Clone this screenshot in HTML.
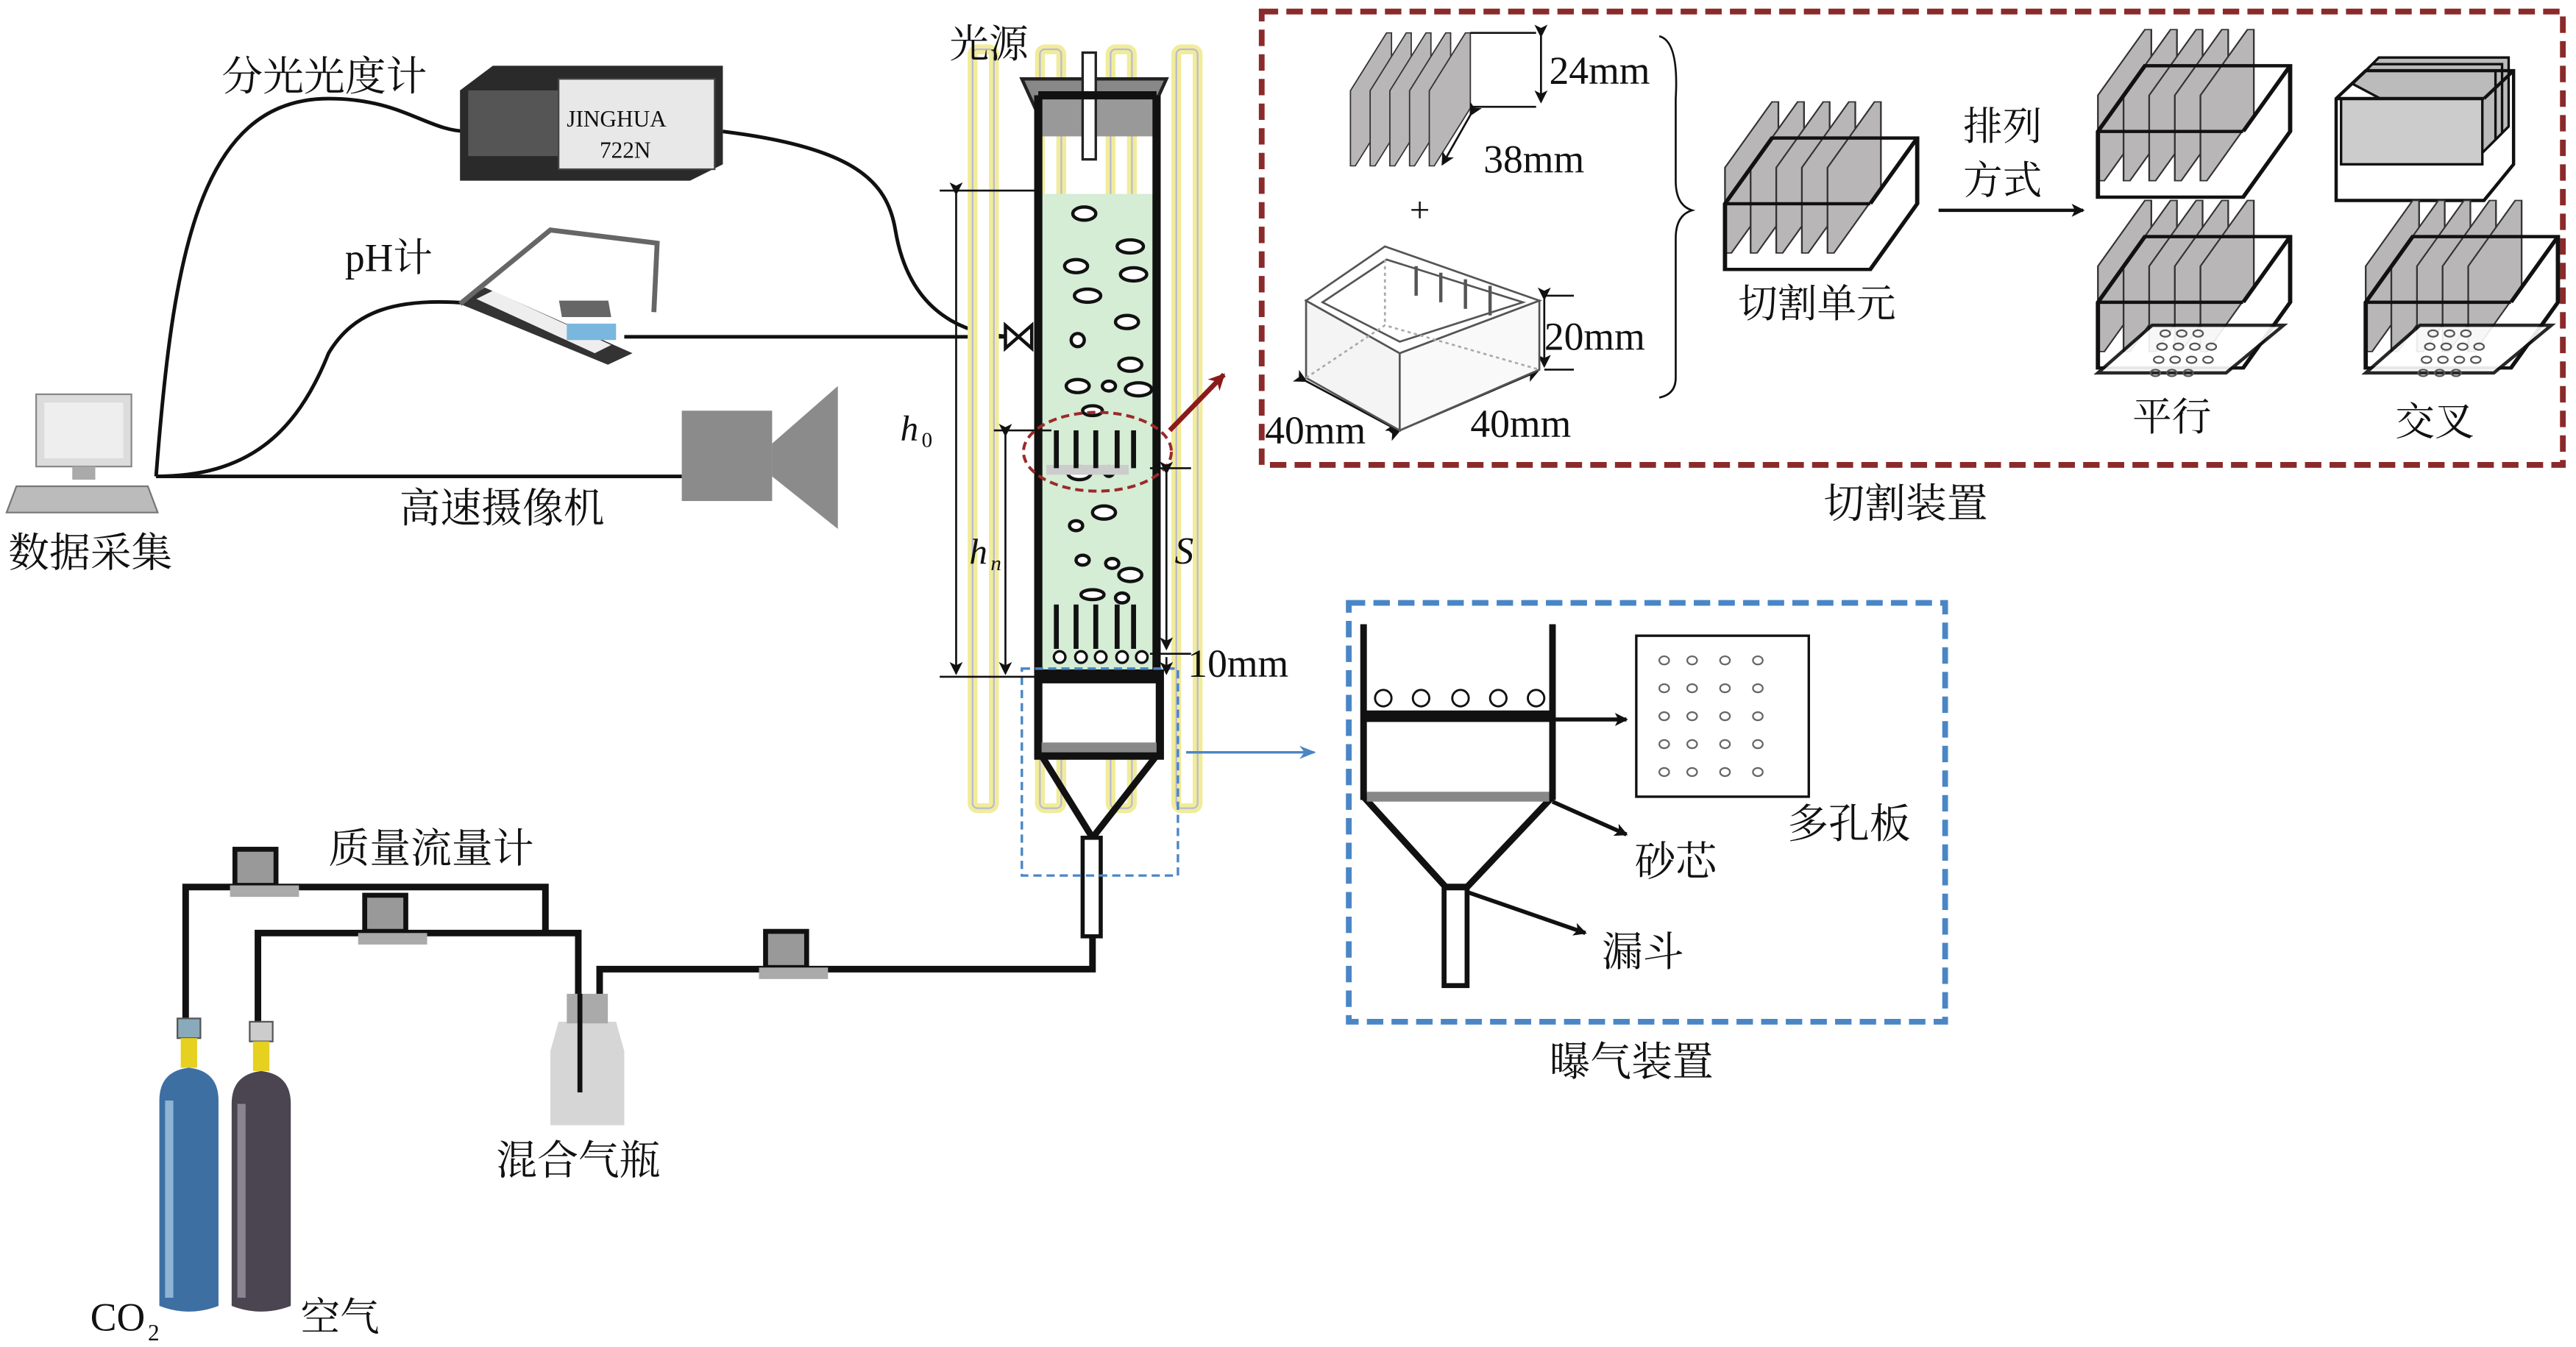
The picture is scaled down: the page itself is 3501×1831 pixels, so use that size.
<!DOCTYPE html>
<html><head><meta charset="utf-8"><style>
html,body{margin:0;padding:0;background:#fff}
svg{display:block}
text{font-family:"Liberation Serif","Noto Serif CJK SC","Noto Sans CJK SC",serif;fill:#111}
</style></head><body>
<svg width="3501" height="1831" viewBox="0 0 1568 820" xmlns="http://www.w3.org/2000/svg">
<defs>
<g id="plates">
<path d="M0,40 L22,0 L25,0 L25,52 L3,92 L0,92Z" fill="#b8b6b6" stroke="#333" stroke-width="0.8"/>
<path d="M12,40 L34,0 L37,0 L37,52 L15,92 L12,92Z" fill="#b8b6b6" stroke="#333" stroke-width="0.8"/>
<path d="M24,40 L46,0 L49,0 L49,52 L27,92 L24,92Z" fill="#b8b6b6" stroke="#333" stroke-width="0.8"/>
<path d="M36,40 L58,0 L61,0 L61,52 L39,92 L36,92Z" fill="#b8b6b6" stroke="#333" stroke-width="0.8"/>
<path d="M48,40 L70,0 L73,0 L73,52 L51,92 L48,92Z" fill="#b8b6b6" stroke="#333" stroke-width="0.8"/>
</g>
<g id="unit">
<use href="#plates"/>
<path d="M0,62 L22,22 L90,22 L90,62 L68,102 L0,102Z" fill="none" stroke="#111" stroke-width="2"/>
<line x1="0" y1="62" x2="68" y2="62" stroke="#111" stroke-width="2"/>
<line x1="68" y1="62" x2="90" y2="22" stroke="#111" stroke-width="2"/>
</g>
<g id="holes" fill="none" stroke="#555" stroke-width="1">
<ellipse cx="0" cy="0" rx="3" ry="2"/><ellipse cx="10" cy="0" rx="3" ry="2"/><ellipse cx="20" cy="0" rx="3" ry="2"/>
<ellipse cx="-2" cy="8" rx="3" ry="2"/><ellipse cx="8" cy="8" rx="3" ry="2"/><ellipse cx="18" cy="8" rx="3" ry="2"/><ellipse cx="28" cy="8" rx="3" ry="2"/>
<ellipse cx="-4" cy="16" rx="3" ry="2"/><ellipse cx="6" cy="16" rx="3" ry="2"/><ellipse cx="16" cy="16" rx="3" ry="2"/><ellipse cx="26" cy="16" rx="3" ry="2"/>
<ellipse cx="-6" cy="24" rx="3" ry="2"/><ellipse cx="4" cy="24" rx="3" ry="2"/><ellipse cx="14" cy="24" rx="3" ry="2"/>
</g>
<marker id="ah" markerWidth="8" markerHeight="8" refX="7" refY="4" orient="auto" markerUnits="userSpaceOnUse"><path d="M0,0 L8,4 L0,8 L2,4Z" fill="#111"/></marker>
<marker id="ahr" markerWidth="10" markerHeight="10" refX="9" refY="5" orient="auto" markerUnits="userSpaceOnUse"><path d="M0,0 L10,5 L0,10 L3,5Z" fill="#8b1a1a"/></marker>
<marker id="ahb" markerWidth="10" markerHeight="8" refX="9" refY="4" orient="auto" markerUnits="userSpaceOnUse"><path d="M0,0 L10,4 L0,8 L3,4Z" fill="#4a86c5"/></marker>
</defs>

<rect x="22" y="240" width="58" height="44" fill="#dcdcdc" stroke="#888"/>
<rect x="27" y="245" width="48" height="34" fill="#eee"/>
<rect x="44" y="284" width="14" height="8" fill="#aaa"/>
<path d="M10,296 L90,296 L96,312 L4,312Z" fill="#bbb" stroke="#777"/>
<text x="5" y="345" font-size="25">数据采集</text>

<g fill="none" stroke="#111" stroke-width="2.2">
<path d="M95,290 C105,160 120,60 200,60 C245,60 260,80 285,80"/>
<path d="M440,80 C520,90 540,110 545,140 C555,200 600,205 620,205"/>
<path d="M95,290 C150,290 180,265 200,215 C215,190 240,180 290,185"/>
<path d="M380,205 L612,205"/>
<path d="M95,290 L415,290"/>
</g>

<path d="M280,55 L300,40 L440,40 L440,100 L420,110 L280,110Z" fill="#2a2a2a"/>
<rect x="285" y="55" width="60" height="40" fill="#555"/>
<rect x="340" y="48" width="95" height="55" fill="#e8e8e8" stroke="#444"/>
<text x="345" y="77" font-size="14">JINGHUA</text>
<text x="365" y="96" font-size="14">722N</text>
<text x="135" y="55" font-size="25">分光光度计</text>

<path d="M280,185 L295,175 L385,215 L370,222Z" fill="#333"/>
<path d="M290,182 L300,177 L372,210 L362,215Z" fill="#eee"/>
<rect x="308" y="183" width="30" height="10" fill="#666" transform="skewX(10)"/>
<rect x="345" y="197" width="30" height="10" fill="#7ab7de"/>
<path d="M280,185 L335,140 L400,148 L398,190" fill="none" stroke="#666" stroke-width="3"/>
<text x="210" y="165" font-size="24">pH计</text>

<rect x="415" y="250" width="55" height="55" fill="#8b8b8b"/>
<path d="M470,270 L510,235 L510,322 L470,290Z" fill="#8b8b8b"/>
<text x="243" y="318" font-size="25">高速摄像机</text>

<g fill="#fff" stroke="#f1ec9a" stroke-width="6">
<rect x="592" y="30" width="13" height="462" rx="3"/>
<rect x="633" y="30" width="13" height="462" rx="3"/>
<rect x="676" y="30" width="13" height="462" rx="3"/>
<rect x="716" y="30" width="13" height="462" rx="3"/>
</g>
<g fill="none" stroke="#b9b9d6" stroke-width="1">
<rect x="592" y="30" width="13" height="462" rx="3"/>
<rect x="633" y="30" width="13" height="462" rx="3"/>
<rect x="676" y="30" width="13" height="462" rx="3"/>
<rect x="716" y="30" width="13" height="462" rx="3"/>
</g>
<text x="578" y="35" font-size="24">光源</text>

<rect x="632" y="118" width="72" height="290" fill="#d5ecd5"/>
<path d="M622,48 L710,48 L700,70 L632,70Z" fill="#888" stroke="#222" stroke-width="2"/>
<rect x="632" y="58" width="72" height="25" fill="#999"/>
<rect x="659" y="32" width="8" height="65" fill="#fff" stroke="#222" stroke-width="1.5"/>
<path d="M632,58 L632,410 M704,58 L704,410 M632,58 L704,58" fill="none" stroke="#111" stroke-width="5"/>
<g fill="#fff" stroke="#111" stroke-width="2">
<ellipse cx="660" cy="130" rx="7" ry="4"/><ellipse cx="688" cy="150" rx="8" ry="4"/><ellipse cx="655" cy="162" rx="7" ry="4"/>
<ellipse cx="690" cy="167" rx="8" ry="4"/><ellipse cx="662" cy="180" rx="8" ry="4"/><ellipse cx="686" cy="196" rx="7" ry="4"/>
<ellipse cx="656" cy="207" rx="4" ry="4"/><ellipse cx="688" cy="222" rx="7" ry="4"/><ellipse cx="656" cy="235" rx="7" ry="4"/>
<ellipse cx="675" cy="235" rx="4" ry="3"/><ellipse cx="693" cy="237" rx="8" ry="4"/><ellipse cx="665" cy="250" rx="6" ry="3"/>
<ellipse cx="657" cy="288" rx="7" ry="4"/><ellipse cx="675" cy="287" rx="3" ry="3"/><ellipse cx="672" cy="312" rx="7" ry="4"/>
<ellipse cx="655" cy="320" rx="4" ry="3"/><ellipse cx="659" cy="341" rx="4" ry="3"/><ellipse cx="677" cy="343" rx="4" ry="3"/><ellipse cx="688" cy="350" rx="7" ry="4"/>
<ellipse cx="665" cy="362" rx="7" ry="3"/><ellipse cx="683" cy="364" rx="4" ry="3"/>
</g>
<rect x="637" y="283" width="50" height="6" fill="#ccc"/>
<g stroke="#111" stroke-width="3">
<line x1="643" y1="262" x2="643" y2="285"/><line x1="655" y1="262" x2="655" y2="285"/><line x1="667" y1="262" x2="667" y2="285"/><line x1="680" y1="262" x2="680" y2="285"/><line x1="690" y1="262" x2="690" y2="285"/>
<line x1="643" y1="368" x2="643" y2="395"/><line x1="655" y1="368" x2="655" y2="395"/><line x1="667" y1="368" x2="667" y2="395"/><line x1="680" y1="368" x2="680" y2="395"/><line x1="690" y1="368" x2="690" y2="395"/>
</g>
<g fill="#fff" stroke="#111" stroke-width="1.5">
<circle cx="645" cy="400" r="3.5"/><circle cx="658" cy="400" r="3.5"/><circle cx="670" cy="400" r="3.5"/><circle cx="683" cy="400" r="3.5"/><circle cx="695" cy="400" r="3.5"/>
</g>
<ellipse cx="668" cy="275" rx="45" ry="24" fill="none" stroke="#9b2a2a" stroke-width="1.8" stroke-dasharray="5,3"/>
<line x1="712" y1="262" x2="745" y2="228" stroke="#8b1a1a" stroke-width="3" marker-end="url(#ahr)"/>
<rect x="632" y="410" width="74" height="50" fill="#fff" stroke="#111" stroke-width="5"/>
<rect x="630" y="408" width="78" height="8" fill="#111"/>
<rect x="634" y="452" width="70" height="6" fill="#888"/>
<path d="M634,460 L665,510 L704,460" fill="none" stroke="#111" stroke-width="4"/>
<rect x="659" y="510" width="11" height="60" fill="#fff" stroke="#111" stroke-width="2.5"/>
<rect x="622" y="407" width="95" height="126" fill="none" stroke="#4a86c5" stroke-width="1.5" stroke-dasharray="5,3"/>
<line x1="722" y1="458" x2="800" y2="458" stroke="#4a86c5" stroke-width="1.5" marker-end="url(#ahb)"/>
<path d="M612,198 L628,212 L628,198 L612,212Z" fill="#fff" stroke="#111" stroke-width="2"/>

<g stroke="#111" stroke-width="1.2" fill="none">
<line x1="572" y1="116" x2="632" y2="116"/>
<line x1="572" y1="412" x2="632" y2="412"/>
<line x1="582" y1="118" x2="582" y2="410" marker-end="url(#ah)" marker-start="url(#ah)"/>
<line x1="605" y1="262" x2="640" y2="262"/>
<line x1="612" y1="265" x2="612" y2="410" marker-end="url(#ah)" marker-start="url(#ah)"/>
<line x1="700" y1="285" x2="725" y2="285"/>
<line x1="710" y1="288" x2="710" y2="395" marker-end="url(#ah)" marker-start="url(#ah)"/>
<line x1="700" y1="398" x2="725" y2="398"/>
<line x1="710" y1="400" x2="710" y2="410" marker-end="url(#ah)"/>
</g>
<text x="548" y="268" font-size="22" font-style="italic">h</text><text x="561" y="272" font-size="13">0</text>
<text x="590" y="343" font-size="22" font-style="italic">h</text><text x="603" y="347" font-size="13" font-style="italic">n</text>
<text x="715" y="343" font-size="23" font-style="italic">S</text>
<text x="723" y="412" font-size="24">10mm</text>

<rect x="768" y="7" width="792" height="276" fill="none" stroke="#8b2a2a" stroke-width="3.5" stroke-dasharray="10,5"/>
<use href="#plates" transform="translate(822,20) scale(1.0,0.88)"/>
<g stroke="#111" stroke-width="1.2" fill="none">
<line x1="895" y1="20" x2="935" y2="20"/><line x1="895" y1="65" x2="935" y2="65"/>
<line x1="938" y1="22" x2="938" y2="62" marker-end="url(#ah)" marker-start="url(#ah)"/>
<line x1="895" y1="70" x2="878" y2="100" marker-end="url(#ah)" marker-start="url(#ah)"/>
<line x1="940" y1="180" x2="958" y2="180"/><line x1="940" y1="225" x2="958" y2="225"/>
<line x1="940" y1="182" x2="940" y2="223" marker-end="url(#ah)" marker-start="url(#ah)"/>
<line x1="795" y1="232" x2="851" y2="262" marker-end="url(#ah)" marker-start="url(#ah)"/>
<line x1="852" y1="262" x2="936" y2="226" marker-end="url(#ah)" marker-start="url(#ah)"/>
<path d="M1010,22 Q1022,25 1020,60 L1020,110 Q1020,125 1030,128 Q1020,131 1020,145 L1020,230 Q1020,240 1010,242"/>
</g>
<text x="943" y="51" font-size="24">24mm</text>
<text x="903" y="105" font-size="24">38mm</text>
<text x="858" y="135" font-size="22">+</text>
<g stroke="#555" stroke-width="1.2">
<path d="M795,183 L852,215 L852,262 L795,230Z" fill="#f4f4f4"/>
<path d="M852,215 L937,183 L937,225 L852,262Z" fill="#f9f9f9"/>
<path d="M795,183 L843,150 L937,183 L852,215Z" fill="#fff"/>
<path d="M805,184 L844,158 L927,184 L852,208Z" fill="#fff"/>
<g stroke-dasharray="2,2" stroke="#aaa" fill="none"><path d="M795,230 L843,198 L937,225 M843,158 L843,198"/></g>
<line x1="862" y1="162" x2="862" y2="180" stroke-width="2"/><line x1="877" y1="166" x2="877" y2="184" stroke-width="2"/><line x1="892" y1="170" x2="892" y2="188" stroke-width="2"/><line x1="907" y1="174" x2="907" y2="192" stroke-width="2"/>
</g>
<text x="940" y="213" font-size="24">20mm</text>
<text x="770" y="270" font-size="24">40mm</text>
<text x="895" y="266" font-size="24">40mm</text>
<use href="#unit" transform="translate(1050,62) scale(1.3,1.0)"/>
<text x="1058" y="193" font-size="24">切割单元</text>
<text x="1195" y="85" font-size="24">排列</text>
<text x="1195" y="118" font-size="24">方式</text>
<line x1="1180" y1="128" x2="1268" y2="128" stroke="#111" stroke-width="2" marker-end="url(#ah)"/>
<use href="#unit" transform="translate(1277,18) scale(1.3,1.0)"/>
<g stroke="#111" stroke-width="1.5">
<path d="M1440,43 L1448,35 L1527,35 L1527,77 L1519,85Z" fill="#bbb"/>
<path d="M1436,47 L1444,39 L1523,39 L1523,81 L1515,89Z" fill="#bbb"/>
<path d="M1432,51 L1440,43 L1519,43 L1519,85 L1511,93Z" fill="#bbb"/>
<rect x="1425" y="60" width="86" height="40" fill="#ccc"/>
<path d="M1422,60 L1440,43 L1530,43 L1530,100 L1512,122 L1422,122Z" fill="none" stroke-width="2"/>
<line x1="1422" y1="60" x2="1512" y2="60" stroke-width="2"/>
<line x1="1512" y1="60" x2="1530" y2="43" stroke-width="2"/>
</g>
<use href="#unit" transform="translate(1277,122) scale(1.3,1.0)"/>
<path d="M1277,227 L1355,227 L1390,198 L1310,198Z" fill="#fff" stroke="#111" stroke-width="2" opacity="0.9"/>
<use href="#holes" x="1318" y="203"/>
<use href="#unit" transform="translate(1440,122) scale(1.3,1.0)"/>
<path d="M1440,227 L1518,227 L1553,198 L1473,198Z" fill="#fff" stroke="#111" stroke-width="2" opacity="0.9"/>
<use href="#holes" x="1481" y="203"/>
<text x="1298" y="262" font-size="24">平行</text>
<text x="1458" y="265" font-size="24">交叉</text>
<text x="1110" y="315" font-size="25">切割装置</text>

<rect x="821" y="367" width="363" height="255" fill="none" stroke="#4a86c5" stroke-width="3.5" stroke-dasharray="10,5"/>
<g fill="none" stroke="#111" stroke-width="4">
<path d="M830,380 L830,485 L945,485 L945,380"/>
<line x1="830" y1="436" x2="945" y2="436" stroke-width="7"/>
<path d="M830,485 L880,540 L893,540 L945,485"/>
<rect x="879" y="540" width="14" height="60" stroke-width="3"/>
</g>
<rect x="832" y="482" width="111" height="6" fill="#888"/>
<g fill="#fff" stroke="#111" stroke-width="1.3">
<circle cx="842" cy="425" r="5"/><circle cx="865" cy="425" r="5"/><circle cx="889" cy="425" r="5"/><circle cx="912" cy="425" r="5"/><circle cx="935" cy="425" r="5"/>
</g>
<g stroke="#111" stroke-width="2.5" fill="none">
<line x1="945" y1="438" x2="990" y2="438" marker-end="url(#ah)"/>
<line x1="945" y1="488" x2="990" y2="508" marker-end="url(#ah)"/>
<line x1="893" y1="543" x2="965" y2="568" marker-end="url(#ah)"/>
</g>
<rect x="996" y="387" width="105" height="98" fill="#fff" stroke="#111" stroke-width="1.5"/>
<g fill="none" stroke="#666" stroke-width="1">
<g id="hrow"><ellipse cx="1013" cy="402" rx="3" ry="2.5"/><ellipse cx="1030" cy="402" rx="3" ry="2.5"/><ellipse cx="1050" cy="402" rx="3" ry="2.5"/><ellipse cx="1070" cy="402" rx="3" ry="2.5"/></g>
<use href="#hrow" y="17"/><use href="#hrow" y="34"/><use href="#hrow" y="51"/><use href="#hrow" y="68"/>
</g>
<text x="1088" y="510" font-size="25">多孔板</text>
<text x="995" y="533" font-size="25">砂芯</text>
<text x="975" y="588" font-size="25">漏斗</text>
<text x="943" y="655" font-size="25">曝气装置</text>

<g fill="none" stroke="#111" stroke-width="4">
<path d="M113,628 L113,540 L332,540 L332,568"/>
<path d="M157,630 L157,568 L352,568 L352,635"/>
<path d="M365,625 L365,590 L665,590 L665,570"/>
</g>
<g>
<rect x="143" y="517" width="25" height="22" fill="#999" stroke="#111" stroke-width="3"/><rect x="140" y="539" width="42" height="7" fill="#aaa"/>
<rect x="222" y="545" width="25" height="22" fill="#999" stroke="#111" stroke-width="3"/><rect x="218" y="568" width="42" height="7" fill="#aaa"/>
<rect x="466" y="567" width="25" height="22" fill="#999" stroke="#111" stroke-width="3"/><rect x="462" y="589" width="42" height="7" fill="#aaa"/>
</g>
<text x="200" y="525" font-size="25">质量流量计</text>
<path d="M340,622 L375,622 L380,640 L380,685 L335,685 L335,640Z" fill="#d6d6d6"/>
<rect x="345" y="605" width="25" height="18" fill="#aaa"/>
<line x1="353" y1="605" x2="353" y2="665" stroke="#111" stroke-width="3"/>
<text x="302" y="715" font-size="25">混合气瓶</text>
<rect x="108" y="620" width="14" height="12" fill="#8ab" stroke="#555"/>
<rect x="152" y="622" width="14" height="12" fill="#ccc" stroke="#555"/>
<path d="M110,632 L120,632 L120,650 L110,650Z" fill="#e6d020"/>
<path d="M154,634 L164,634 L164,652 L154,652Z" fill="#e6d020"/>
<path d="M97,670 Q97,652 115,650 Q133,652 133,670 L133,795 Q115,802 97,795Z" fill="#3e6fa3"/>
<path d="M141,672 Q141,654 159,652 Q177,654 177,672 L177,795 Q159,802 141,795Z" fill="#4a4550"/>
<path d="M103,670 L103,790" stroke="#8fb4d6" stroke-width="5"/>
<path d="M147,672 L147,790" stroke="#8a8490" stroke-width="5"/>
<text x="55" y="810" font-size="24">CO</text><text x="90" y="816" font-size="14">2</text>
<text x="183" y="810" font-size="24">空气</text>
</svg>
</body></html>
